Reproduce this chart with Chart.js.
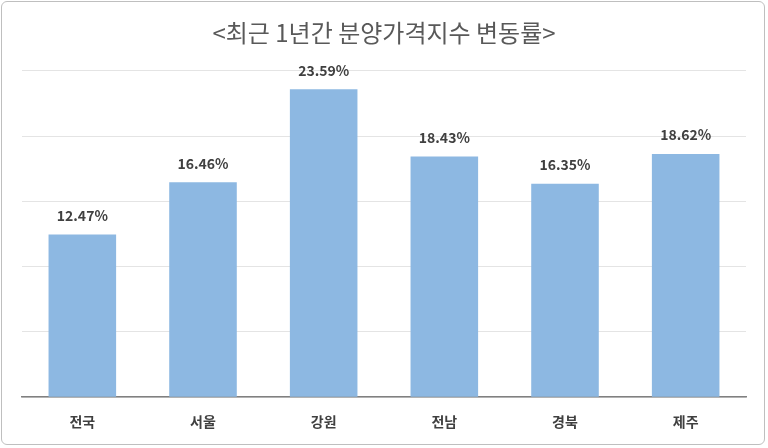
<!DOCTYPE html>
<html><head><meta charset="utf-8">
<script src="https://cdn.jsdelivr.net/npm/chart.js@4"></script>
<style>
html,body{margin:0;padding:0;background:#fff;}
#wrap{position:absolute;left:1px;top:1px;width:764px;height:444px;border:1px solid #bfbfbf;border-radius:6px;box-sizing:border-box;}
</style></head><body>
<div id="wrap"><canvas id="c"></canvas></div>
<script>
const categories=['전국','서울','강원','전남','경북','제주'];
const values=[12.47,16.46,23.59,18.43,16.35,18.62];
const labelPlugin={id:'lbl',afterDatasetsDraw(ch){const ctx=ch.ctx;const m=ch.getDatasetMeta(0);ctx.save();ctx.font='bold 14px "Noto Sans CJK KR", "Noto Sans"';ctx.fillStyle='#404040';ctx.textAlign='center';ctx.textBaseline='bottom';m.data.forEach((b,i)=>{ctx.fillText(values[i].toFixed(2)+'%',b.x,b.y-12);});ctx.restore();}};
new Chart(document.getElementById('c'),{type:'bar',
data:{labels:categories,datasets:[{data:values,backgroundColor:'#8db8e2',categoryPercentage:1,barPercentage:0.56}]},
options:{responsive:true,maintainAspectRatio:false,animation:false,
layout:{padding:{left:20,right:18,top:4,bottom:6}},
plugins:{legend:{display:false},tooltip:{enabled:false},
title:{display:true,text:'<최근 1년간 분양가격지수 변동률>',color:'#595959',font:{size:24,family:'"Noto Sans CJK KR"',weight:'normal'},padding:{top:12,bottom:24}}},
scales:{x:{grid:{display:false},border:{color:'#808080',width:1.5},ticks:{color:'#404040',font:{size:14,weight:'bold',family:'"Noto Sans CJK KR"'},padding:8}},
y:{min:0,max:25,ticks:{display:false,stepSize:5},grid:{color:'#e4e4e4',drawTicks:false},border:{display:false}}}},
plugins:[labelPlugin]});
</script></body></html>
